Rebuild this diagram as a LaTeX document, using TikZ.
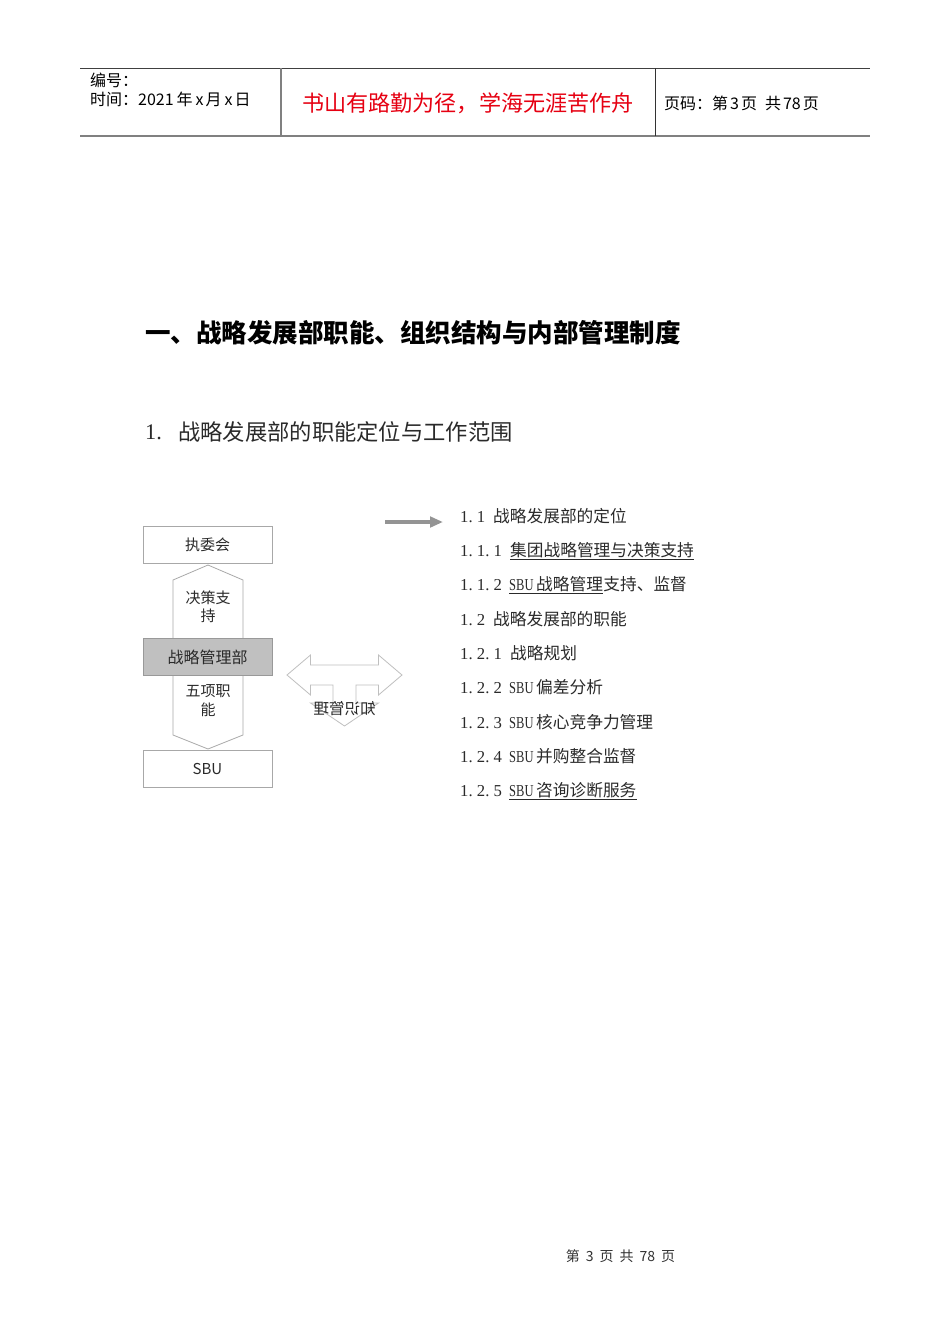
\documentclass[tikz,border=0pt]{standalone}
\usepackage{fontspec}
\usepackage{graphicx}
\setmainfont{Noto Sans CJK SC}
\newfontfamily\lserif{Liberation Serif}
\usetikzlibrary{arrows.meta}
\definecolor{txt}{HTML}{2A2A2A}
\definecolor{boxline}{HTML}{A8A8A8}
\definecolor{boxfill}{HTML}{C0C0C0}
\definecolor{motto}{RGB}{230,0,18}
\newcommand\fsz[1]{\fontsize{#1}{#1}\selectfont}
\newcommand\pd{.\hspace{4.2pt}}
\newcommand\sbutxt{\scalebox{0.75}[1]{SBU}}
\tikzset{
  lnum/.style={anchor=base west, inner sep=0pt, font=\lserif\fsz{16.7}, text=txt},
  ltxt/.style={anchor=base west, inner sep=0pt, font=\fsz{16.7}, text=txt},
  uline/.style={draw=txt, line width=0.8pt},
  orgbox/.style={draw=boxline, fill=white, line width=0.9pt, minimum width=129pt, minimum height=37pt, inner sep=0pt, font=\fsz{15}, text=txt},
  hdr/.style={anchor=west, inner sep=0pt, font=\fsz{16}, text=black},
}
\begin{document}
\begin{tikzpicture}[x=1pt,y=-1pt]
\useasboundingbox (0,0) rectangle (950,1344);
\fill[white] (0,0) rectangle (950,1344);

% ---------- header ----------
\coordinate (hTL) at (80,68);
\coordinate (hTR) at (870,68);
\coordinate (hBL) at (80,136);
\coordinate (hBR) at (870,136);
\coordinate (v1T) at (281,68);
\coordinate (v1B) at (281,136);
\coordinate (v2T) at (655,68);
\coordinate (v2B) at (655,136);
\draw[draw=black!75, line width=1pt] (hTL) -- (hTR);
\draw[draw=black!50, line width=2pt] (hBL) -- (hBR);
\draw[draw=black!50, line width=1.2pt] (v1T) -- (v1B);
\draw[draw=black!80, line width=1pt] (v2T) -- (v2B);

\node[hdr] (bianhao) at (90,80) {编号：};
\node[hdr] (shijian) at (90,99) {时间：2021\hspace{3pt}年\hspace{3pt}x\hspace{2pt}月\hspace{3pt}x\hspace{2pt}日};
\node[inner sep=0pt, font=\fsz{22.1}, text=motto] (motto) at (468,103) {书山有路勤为径，学海无涯苦作舟};
\node[hdr] (yema) at (664,103) {页码：第\hspace{2pt}3\hspace{2pt}页\hspace{8pt}共\hspace{2pt}78\hspace{2pt}页};

% ---------- titles ----------
\node[anchor=west, inner sep=0pt, font=\bfseries\fsz{25.5}, text=black] (title) at (145,333) {一、战略发展部职能、组织结构与内部管理制度};
\node[anchor=west, inner sep=0pt, font=\lserif\fsz{22.3}, text=txt] (subnum) at (145,432) {1.};
\node[anchor=west, inner sep=0pt, font=\fsz{22.3}, text=txt] (subtitle) at (178,432) {战略发展部的职能定位与工作范围};

% ---------- left diagram ----------
\coordinate (hxT) at (208,565);
\coordinate (hxTR) at (243,580);
\coordinate (hxBR) at (243,735);
\coordinate (hxB) at (208,749);
\coordinate (hxBL) at (173,735);
\coordinate (hxTL) at (173,580);
\draw[draw=boxline, fill=white, line width=0.8pt] (hxT) -- (hxTR) -- (hxBR) -- (hxB) -- (hxBL) -- (hxTL) -- cycle;

\node[orgbox] (zwh) at (207.5,544.5) {执委会};
\node[orgbox, fill=boxfill, draw=black!40] (zlglb) at (207.5,657) {\fsz{16}战略管理部};
\node[orgbox] (sbu) at (207.5,768.5) {SBU};

\node[align=center, inner sep=0pt, font=\fontsize{15}{18}\selectfont, text=txt] (jczc) at (208,607) {决策支\\持};
\node[align=center, inner sep=0pt, font=\fontsize{15}{19}\selectfont, text=txt] (wxzn) at (208,700.5) {五项职\\能};

% ---------- T arrow ----------
\draw[draw=black!25, fill=white, line width=0.8pt]
  (287,675) -- (310.5,655) -- (310.5,665) -- (378.5,665) -- (378.5,655) -- (402,675)
  -- (378.5,695) -- (378.5,685) -- (356,685) -- (356,703) -- (378.5,703) -- (344.5,726)
  -- (310.5,703) -- (333,703) -- (333,685) -- (310.5,685) -- (310.5,695) -- cycle;
\node[inner sep=0pt, font=\fsz{15.5}, text=txt] (mirror) at (344.5,709) {\scalebox{-1}[1]{知识管理}};

% ---------- gray pointer arrow ----------
\coordinate (arrS) at (385,522);
\coordinate (arrE) at (443,522);
\draw[draw=black!42, line width=3.5pt, -{Triangle[length=13pt,width=10.5pt]}] (arrS) -- (arrE);

% ---------- list ----------
\node[lnum] (n1) at (460,522) {1\pd 1};
\node[ltxt] (t1) at (493,522) {战略发展部的定位};

\node[lnum] (n2) at (460,556.4) {1\pd 1\pd 1};
\node[ltxt] (t2) at (510,556.4) {集团战略管理与决策支持};
\draw[uline] ([yshift=-2.5pt]t2.base west) -- ([yshift=-2.5pt]t2.base east);

\node[lnum] (n3) at (460,590.7) {1\pd 1\pd 2};
\node[lnum] (s3) at (509,590.7) {\sbutxt};
\node[ltxt] (t3) at (536,590.7) {战略管理};
\node[ltxt] (t3b) at (t3.base east) {支持、监督};
\draw[uline] ([yshift=-2.5pt]s3.base west) -- ([yshift=-2.5pt]t3.base east);

\node[lnum] (n4) at (460,625.1) {1\pd 2};
\node[ltxt] (t4) at (493,625.1) {战略发展部的职能};

\node[lnum] (n5) at (460,659.4) {1\pd 2\pd 1};
\node[ltxt] (t5) at (510,659.4) {战略规划};

\node[lnum] (n6) at (460,693.8) {1\pd 2\pd 2};
\node[lnum] (s6) at (509,693.8) {\sbutxt};
\node[ltxt] (t6) at (536,693.8) {偏差分析};

\node[lnum] (n7) at (460,728.1) {1\pd 2\pd 3};
\node[lnum] (s7) at (509,728.1) {\sbutxt};
\node[ltxt] (t7) at (536,728.1) {核心竞争力管理};

\node[lnum] (n8) at (460,762.5) {1\pd 2\pd 4};
\node[lnum] (s8) at (509,762.5) {\sbutxt};
\node[ltxt] (t8) at (536,762.5) {并购整合监督};

\node[lnum] (n9) at (460,796.8) {1\pd 2\pd 5};
\node[lnum] (s9) at (509,796.8) {\sbutxt};
\node[ltxt] (t9) at (536,796.8) {咨询诊断服务};
\draw[uline] ([yshift=-2.5pt]s9.base west) -- ([yshift=-2.5pt]t9.base east);

% ---------- footer ----------
\node[inner sep=0pt, font=\fsz{14}, text=black!80] (footer) at (620.5,1256) {第\hspace{6pt}3\hspace{6pt}页\hspace{6pt}共\hspace{6pt}78\hspace{6pt}页};
\end{tikzpicture}
\end{document}
